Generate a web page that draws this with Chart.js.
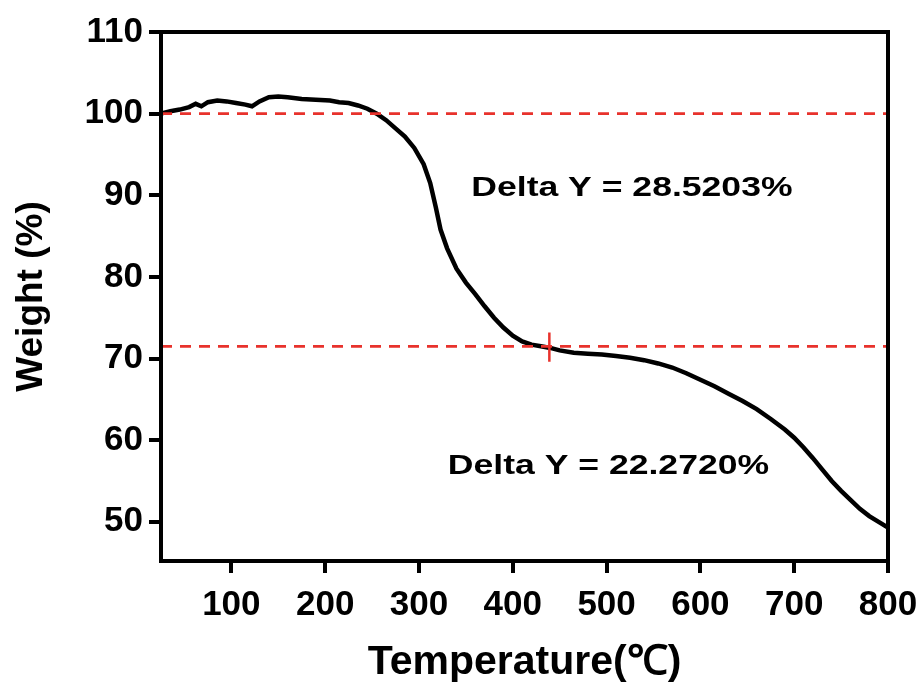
<!DOCTYPE html>
<html><head><meta charset="utf-8">
<script src="https://cdn.jsdelivr.net/npm/chart.js@4/dist/chart.umd.min.js"></script>
<style>html,body{margin:0;padding:0;background:#fff}</style>
</head><body>
<canvas id="c" width="923" height="691"></canvas>
<script>
// ---- data ----
const temps = [25,35,45,55,62,68,75,85,95,105,115,122,130,140,150,160,175,190,205,215,225,235,245,255,265,275,285,295,305,312,318,323,330,340,350,360,370,380,390,400,410,420,430,440,450,465,480,495,510,525,540,555,570,585,600,615,630,645,660,675,690,700,710,720,730,740,750,760,770,780,790,800];
const weights = [100.0,100.3,100.5,100.8,101.2,100.9,101.4,101.6,101.5,101.3,101.1,100.9,101.5,102.0,102.1,102.0,101.8,101.7,101.6,101.4,101.3,101.0,100.6,100.0,99.2,98.2,97.2,95.8,93.8,91.5,88.5,85.8,83.5,81.0,79.3,77.9,76.4,75.0,73.8,72.8,72.1,71.7,71.5,71.3,71.0,70.7,70.6,70.5,70.3,70.1,69.8,69.4,68.9,68.2,67.4,66.6,65.7,64.8,63.8,62.6,61.3,60.3,59.1,57.8,56.4,55.0,53.8,52.7,51.6,50.7,50.0,49.3];
const xTicks = [100,200,300,400,500,600,700,800];
const yTicks = [50,60,70,80,90,100,110];
const refLevels = [100, 71.4797];
const markerT = [439, 439];
const markerW = [73.2, 69.6];
const deltaLabels = ['Delta Y = 28.5203%', 'Delta Y = 22.2720%'];
const deltaT = [527, 502];
const deltaW = [90.8, 56.8];

const xMin = 25, xMax = 800, yMin = 45.2, yMax = 110;
const RED = '#e8322c';
const FONT = "'Liberation Sans', Arial, sans-serif";

const framePlugin = {
  id: 'frame',
  afterDatasetsDraw(chart) {
    const {ctx, chartArea: a} = chart;
    ctx.save();
    ctx.strokeStyle = '#000';
    ctx.lineWidth = 4;
    ctx.strokeRect(a.left, a.top, a.right - a.left, a.bottom - a.top);
    ctx.restore();
  }
};
const deltaPlugin = {
  id: 'delta',
  afterDraw(chart) {
    const {ctx} = chart;
    const xs = chart.scales.x, ys = chart.scales.y;
    ctx.save();
    ctx.fillStyle = '#000';
    ctx.font = 'bold 28px ' + FONT;
    ctx.textAlign = 'center';
    ctx.textBaseline = 'middle';
    deltaLabels.forEach((t, i) => {
      ctx.save();
      ctx.translate(xs.getPixelForValue(deltaT[i]), ys.getPixelForValue(deltaW[i]));
      ctx.scale(1.27, 1);
      ctx.fillText(t, 0, 0);
      ctx.restore();
    });
    ctx.restore();
  }
};

new Chart(document.getElementById('c'), {
  type: 'line',
  data: {
    datasets: [
      {label: 'Level 1', data: [{x: xMin, y: refLevels[0]}, {x: xMax, y: refLevels[0]}],
       borderColor: RED, borderWidth: 2.8, borderDash: [11, 8], pointRadius: 0, order: 0},
      {label: 'Level 2', data: [{x: xMin, y: refLevels[1]}, {x: xMax, y: refLevels[1]}],
       borderColor: RED, borderWidth: 2.8, borderDash: [11, 8], pointRadius: 0, order: 0},
      {label: 'Marker', data: markerT.map((t, i) => ({x: t, y: markerW[i]})),
       borderColor: RED, borderWidth: 2.5, pointRadius: 0, order: 0},
      {label: 'Weight', data: temps.map((t, i) => ({x: t, y: weights[i]})),
       borderColor: '#000', borderWidth: 4.5, pointRadius: 0, tension: 0, order: 1}
    ]
  },
  options: {
    responsive: false,
    devicePixelRatio: 1,
    animation: false,
    layout: {padding: {left: 0, top: 32, right: 35, bottom: 0}},
    plugins: {legend: {display: false}, tooltip: {enabled: false}},
    scales: {
      x: {
        type: 'linear', min: xMin, max: xMax,
        afterBuildTicks: s => { s.ticks = xTicks.map(v => ({value: v})); },
        afterFit: s => { s.height = 130; s.paddingLeft = 0; s.paddingRight = 0; },
        ticks: {color: '#000', font: {family: FONT, size: 35, weight: 'bold'}, padding: 11, maxRotation: 0, autoSkip: false},
        grid: {drawOnChartArea: false, drawTicks: true, tickLength: 12, tickWidth: 4, tickColor: '#000', lineWidth: 4, color: '#000'},
        border: {display: false},
        title: {display: true, text: 'Temperature(℃)', color: '#000', font: {family: FONT, size: 41, weight: 'bold'}, padding: {top: 0, bottom: 4}}
      },
      y: {
        type: 'linear', min: yMin, max: yMax,
        afterBuildTicks: s => { s.ticks = yTicks.map(v => ({value: v})); },
        afterFit: s => { s.width = 161; s.paddingTop = 0; s.paddingBottom = 0; },
        ticks: {color: '#000', font: {family: FONT, size: 35, weight: 'bold'}, padding: 6, autoSkip: false},
        grid: {drawOnChartArea: false, drawTicks: true, tickLength: 12, tickWidth: 4, tickColor: '#000', lineWidth: 4, color: '#000'},
        border: {display: false},
        title: {display: true, text: 'Weight (%)', color: '#000', font: {family: FONT, size: 37, weight: 'bold'}, padding: {top: 10, bottom: 0}}
      }
    }
  },
  plugins: [framePlugin, deltaPlugin]
});
</script>
</body></html>
